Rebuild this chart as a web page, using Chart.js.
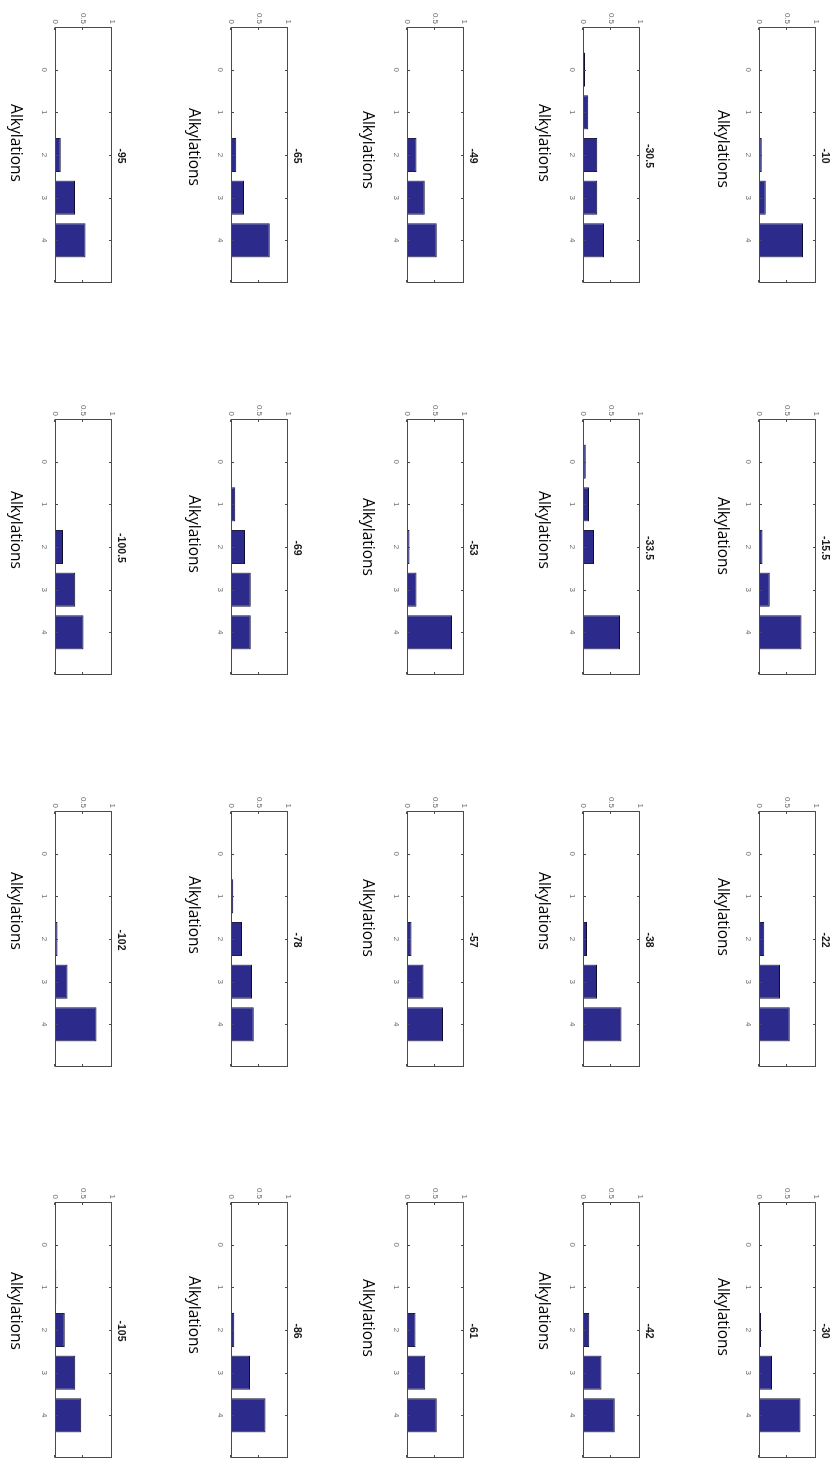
<!DOCTYPE html>
<html>
<head>
<meta charset="utf-8">
<script src="https://cdn.jsdelivr.net/npm/chart.js@4"></script>
<style>
html, body { margin: 0; padding: 0; background: #fff; overflow: hidden; }
body { width: 833px; height: 1458px; position: relative; }
/* the figure is laid out landscape and turned a quarter clockwise onto the page */
#figure {
  position: absolute; left: 0; top: 0;
  width: 1458px; height: 833px;
  transform-origin: 0 0;
  transform: translate(833px, 0) rotate(90deg);
  background: #fff;
}
#figure canvas { position: absolute; }
</style>
</head>
<body>
<div id="figure"></div>
<script>
// Number of alkylations (bar categories) and the fraction axis
const alkylations = [0, 1, 2, 3, 4];
const valueTicks = [0, 0.5, 1];
const valueTickLabels = ['0', '0.5', '1'];

// Panel titles, row by row (4 panels per row)
const titles = ['-10', '-15.5', '-22', '-30',
                '-30.5', '-33.5', '-38', '-42',
                '-49', '-53', '-57', '-61',
                '-65', '-69', '-78', '-86',
                '-95', '-100.5', '-102', '-105'];

// Fraction of molecules with 0..4 alkylations, one list per panel
const t_10    = [0.015, 0.015, 0.05, 0.12, 0.77];
const t_15_5  = [0, 0, 0.06, 0.19, 0.745];
const t_22    = [0, 0, 0.09, 0.37, 0.54];
const t_30    = [0, 0, 0.035, 0.23, 0.73];
const t_30_5  = [0.035, 0.09, 0.25, 0.25, 0.37];
const t_33_5  = [0.05, 0.105, 0.195, 0, 0.65];
const t_38    = [0, 0, 0.07, 0.245, 0.675];
const t_42    = [0, 0, 0.11, 0.325, 0.555];
const t_49    = [0, 0, 0.165, 0.31, 0.52];
const t_53    = [0, 0, 0.045, 0.165, 0.79];
const t_57    = [0, 0, 0.08, 0.29, 0.63];
const t_61    = [0, 0, 0.15, 0.32, 0.52];
const t_65    = [0, 0, 0.09, 0.23, 0.68];
const t_69    = [0, 0.075, 0.245, 0.345, 0.345];
const t_78    = [0, 0.04, 0.195, 0.37, 0.4];
const t_86    = [0, 0, 0.058, 0.335, 0.607];
const t_95    = [0, 0.015, 0.1, 0.35, 0.535];
const t_100_5 = [0, 0, 0.14, 0.355, 0.5];
const t_102   = [0, 0, 0.042, 0.22, 0.73];
const t_105   = [0, 0.02, 0.17, 0.355, 0.46];

const panelValues = [t_10, t_15_5, t_22, t_30,
                     t_30_5, t_33_5, t_38, t_42,
                     t_49, t_53, t_57, t_61,
                     t_65, t_69, t_78, t_86,
                     t_95, t_100_5, t_102, t_105];

// Layout of the axes boxes (landscape figure coordinates)
const colLeft = [27, 419, 811, 1202];
const rowTop = [17, 193, 369, 545, 721];
const boxW = 256, boxH = 57;
const padL = 32, padT = 22, padR = 12, padB = 58;
// placement of the "Alkylations" labels
const labelColShift = [-6, -11, -22, -13];
const labelRowShift = [0, -6, 1, -2, -6];
const labelDrop = [36.5, 40, 39.5, 38, 39.5];

const barFill = '#2c2b8c';
const barEdge = '#0e0e30';
const boxColor = '#4a4a4a';
const tickTextColor = '#6a6a6a';
const tickFont = { family: '"Liberation Sans", Arial, sans-serif', size: 8 };

// Box outline, inward tick marks, panel title and x label
const framePlugin = {
  id: 'frame',
  afterDatasetsDraw(chart, args, opts) {
    const { ctx, chartArea: a } = chart;
    const xs = chart.scales.x, ys = chart.scales.y;
    const L = a.left + 0.5, R = a.right - 0.5, T = a.top + 0.5, B = a.bottom - 0.5;
    const tk = 2.5;
    ctx.save();
    ctx.strokeStyle = boxColor;
    ctx.lineWidth = 1;
    ctx.strokeRect(L, T, R - L, B - T);
    ctx.beginPath();
    alkylations.forEach(v => {
      const px = Math.round(xs.getPixelForValue(v)) + 0.5;
      ctx.moveTo(px, T); ctx.lineTo(px, T + tk);
      ctx.moveTo(px, B); ctx.lineTo(px, B - tk);
    });
    valueTicks.forEach(v => {
      const py = Math.round(ys.getPixelForValue(v)) + 0.5;
      ctx.moveTo(L, py); ctx.lineTo(L + tk, py);
      ctx.moveTo(R, py); ctx.lineTo(R - tk, py);
    });
    ctx.stroke();

    const cx = (a.left + a.right) / 2;
    ctx.textAlign = 'center';
    ctx.textBaseline = 'middle';
    ctx.fillStyle = '#1a1a1a';
    ctx.font = 'bold 10.5px "Liberation Sans", Arial, sans-serif';
    ctx.fillText(opts.title, cx + 1, a.top - 9);

    ctx.fillStyle = '#000';
    ctx.font = '15.5px "Open Sans", sans-serif';
    ctx.fillText('Alkylations', cx + opts.labelShift, a.bottom + opts.labelDrop);
    ctx.restore();
  }
};

const figure = document.getElementById('figure');

titles.forEach((title, i) => {
  const r = Math.floor(i / 4), c = i % 4;
  const canvas = document.createElement('canvas');
  const w = padL + boxW + padR, h = padT + boxH + padB;
  canvas.width = w; canvas.height = h;
  canvas.style.width = w + 'px'; canvas.style.height = h + 'px';
  canvas.style.left = (colLeft[c] - padL) + 'px';
  canvas.style.top = (rowTop[r] - padT) + 'px';
  figure.appendChild(canvas);

  new Chart(canvas, {
    type: 'bar',
    data: {
      labels: alkylations,
      datasets: [{
        data: panelValues[i],
        backgroundColor: barFill,
        borderColor: barEdge,
        borderWidth: 1,
        borderSkipped: false,
        barPercentage: 0.8,
        categoryPercentage: 1.0
      }]
    },
    options: {
      responsive: false,
      animation: false,
      devicePixelRatio: 1,
      layout: { padding: { left: 0, top: padT, right: padR, bottom: 0 } },
      plugins: {
        legend: { display: false },
        tooltip: { enabled: false },
        frame: {
          title: title,
          labelShift: labelColShift[c] + labelRowShift[r],
          labelDrop: labelDrop[r]
        }
      },
      scales: {
        x: {
          type: 'linear',
          min: -1, max: 5,
          offset: false,
          grid: { display: false, drawTicks: false, offset: false },
          border: { display: false },
          afterBuildTicks: s => { s.ticks = alkylations.map(v => ({ value: v })); },
          afterFit: s => { s.height = padB; },
          ticks: {
            padding: 6, maxRotation: 0, autoSkip: false,
            color: tickTextColor, font: tickFont,
            callback: v => String(v)
          }
        },
        y: {
          type: 'linear',
          min: 0, max: 1,
          grid: { display: false, drawTicks: false },
          border: { display: false },
          afterBuildTicks: s => { s.ticks = valueTicks.map(v => ({ value: v })); },
          afterFit: s => { s.width = padL; },
          ticks: {
            padding: 3, autoSkip: false,
            color: tickTextColor, font: tickFont,
            callback: v => valueTickLabels[valueTicks.indexOf(v)]
          }
        }
      }
    },
    plugins: [framePlugin]
  });
});
</script>
</body>
</html>
